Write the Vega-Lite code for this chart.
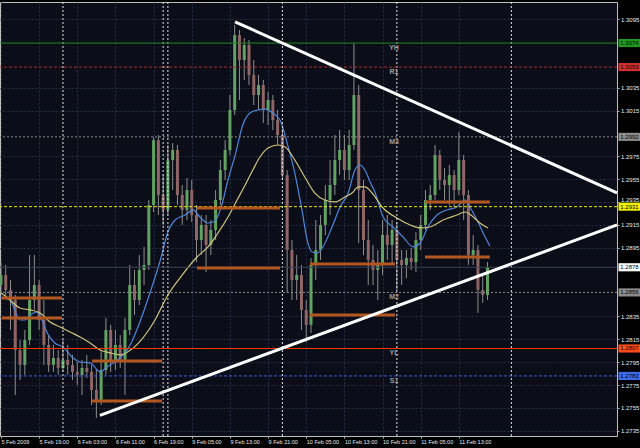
{
  "$schema": "https://vega.github.io/schema/vega-lite/v6.json",
  "width": 617,
  "height": 434,
  "autosize": {"type": "none"},
  "padding": {"left": 0, "top": 2, "right": 23, "bottom": 12},
  "background": "#000000",
  "resolve": {"axis": {"x": "independent", "y": "independent"}},
  "config": {
    "view": {"fill": "#0b0e18", "stroke": "#bdbdbd", "strokeWidth": 1},
    "axis": {
      "labelFont": "Liberation Sans",
      "labelColor": "#e8e8e8",
      "tickColor": "#bdbdbd",
      "tickSize": 2,
      "domain": false,
      "grid": true,
      "gridColor": "#283048",
      "gridDash": [2, 2],
      "gridWidth": 1,
      "labelOverlap": false,
      "labelBound": false,
      "labelFlush": false
    },
    "axisX": {"labelFontSize": 5.5},
    "axisY": {"labelFontSize": 6}
  },
  "datasets": {
    "candles": [
      {"i":0,"o":1.28625,"h":1.28826,"l":1.28564,"c":1.28713},
      {"i":1,"o":1.28713,"h":1.28800,"l":1.28511,"c":1.28581},
      {"i":2,"o":1.28581,"h":1.28669,"l":1.28232,"c":1.28494},
      {"i":3,"o":1.28494,"h":1.28538,"l":1.27663,"c":1.28057},
      {"i":4,"o":1.28057,"h":1.28144,"l":1.27795,"c":1.27926},
      {"i":5,"o":1.27926,"h":1.28232,"l":1.27839,"c":1.28144},
      {"i":6,"o":1.28144,"h":1.28887,"l":1.28101,"c":1.28494},
      {"i":7,"o":1.28494,"h":1.28887,"l":1.28407,"c":1.28625},
      {"i":8,"o":1.28625,"h":1.28669,"l":1.28232,"c":1.28319},
      {"i":9,"o":1.28319,"h":1.28494,"l":1.27926,"c":1.28101},
      {"i":10,"o":1.28101,"h":1.28187,"l":1.27865,"c":1.27926},
      {"i":11,"o":1.27926,"h":1.28101,"l":1.27865,"c":1.27987},
      {"i":12,"o":1.27987,"h":1.28057,"l":1.27839,"c":1.27900},
      {"i":13,"o":1.27900,"h":1.28144,"l":1.27865,"c":1.27970},
      {"i":14,"o":1.27970,"h":1.28101,"l":1.27839,"c":1.27926},
      {"i":15,"o":1.27926,"h":1.28014,"l":1.27795,"c":1.27865},
      {"i":16,"o":1.27865,"h":1.27952,"l":1.27751,"c":1.27839},
      {"i":17,"o":1.27839,"h":1.27970,"l":1.27663,"c":1.27900},
      {"i":18,"o":1.27900,"h":1.28014,"l":1.27812,"c":1.27865},
      {"i":19,"o":1.27865,"h":1.27926,"l":1.27576,"c":1.27707},
      {"i":20,"o":1.27707,"h":1.27882,"l":1.27463,"c":1.27620},
      {"i":21,"o":1.27620,"h":1.28057,"l":1.27576,"c":1.27882},
      {"i":22,"o":1.27882,"h":1.28337,"l":1.27839,"c":1.28232},
      {"i":23,"o":1.28232,"h":1.28276,"l":1.27865,"c":1.27970},
      {"i":24,"o":1.27970,"h":1.28232,"l":1.27882,"c":1.28101},
      {"i":25,"o":1.28101,"h":1.28187,"l":1.27900,"c":1.27970},
      {"i":26,"o":1.27970,"h":1.28337,"l":1.27663,"c":1.28232},
      {"i":27,"o":1.28232,"h":1.28800,"l":1.28187,"c":1.28625},
      {"i":28,"o":1.28625,"h":1.28756,"l":1.28363,"c":1.28494},
      {"i":29,"o":1.28494,"h":1.28887,"l":1.28450,"c":1.28756},
      {"i":30,"o":1.28756,"h":1.28958,"l":1.28625,"c":1.28800},
      {"i":31,"o":1.28800,"h":1.29368,"l":1.28756,"c":1.29324},
      {"i":32,"o":1.29324,"h":1.29919,"l":1.29263,"c":1.29892},
      {"i":33,"o":1.29892,"h":1.29936,"l":1.29237,"c":1.29412},
      {"i":34,"o":1.29412,"h":1.29586,"l":1.29150,"c":1.29281},
      {"i":35,"o":1.29281,"h":1.29849,"l":1.29237,"c":1.29718},
      {"i":36,"o":1.29718,"h":1.29866,"l":1.29455,"c":1.29805},
      {"i":37,"o":1.29805,"h":1.29849,"l":1.29324,"c":1.29412},
      {"i":38,"o":1.29412,"h":1.29499,"l":1.29150,"c":1.29281},
      {"i":39,"o":1.29281,"h":1.29560,"l":1.29193,"c":1.29455},
      {"i":40,"o":1.29455,"h":1.29543,"l":1.29176,"c":1.29237},
      {"i":41,"o":1.29237,"h":1.29324,"l":1.28826,"c":1.29018},
      {"i":42,"o":1.29018,"h":1.29237,"l":1.28887,"c":1.29150},
      {"i":43,"o":1.29150,"h":1.29237,"l":1.28739,"c":1.28975},
      {"i":44,"o":1.28975,"h":1.29193,"l":1.28887,"c":1.29106},
      {"i":45,"o":1.29106,"h":1.29455,"l":1.29018,"c":1.29368},
      {"i":46,"o":1.29368,"h":1.29718,"l":1.29324,"c":1.29630},
      {"i":47,"o":1.29630,"h":1.29892,"l":1.29543,"c":1.29805},
      {"i":48,"o":1.29805,"h":1.30286,"l":1.29761,"c":1.30155},
      {"i":49,"o":1.30155,"h":1.30898,"l":1.30111,"c":1.30810},
      {"i":50,"o":1.30810,"h":1.30854,"l":1.30242,"c":1.30592},
      {"i":51,"o":1.30592,"h":1.30784,"l":1.30417,"c":1.30723},
      {"i":52,"o":1.30723,"h":1.30766,"l":1.30373,"c":1.30461},
      {"i":53,"o":1.30461,"h":1.30592,"l":1.30198,"c":1.30286},
      {"i":54,"o":1.30286,"h":1.30461,"l":1.30155,"c":1.30373},
      {"i":55,"o":1.30373,"h":1.30417,"l":1.30041,"c":1.30155},
      {"i":56,"o":1.30155,"h":1.30312,"l":1.30024,"c":1.30242},
      {"i":57,"o":1.30242,"h":1.30286,"l":1.29980,"c":1.30067},
      {"i":58,"o":1.30067,"h":1.30155,"l":1.29849,"c":1.29936},
      {"i":59,"o":1.29936,"h":1.29997,"l":1.29543,"c":1.29586},
      {"i":60,"o":1.29586,"h":1.29630,"l":1.28555,"c":1.28931},
      {"i":61,"o":1.28931,"h":1.29018,"l":1.28494,"c":1.28669},
      {"i":62,"o":1.28669,"h":1.28887,"l":1.28494,"c":1.28713},
      {"i":63,"o":1.28713,"h":1.28800,"l":1.28232,"c":1.28407},
      {"i":64,"o":1.28407,"h":1.28494,"l":1.28127,"c":1.28276},
      {"i":65,"o":1.28276,"h":1.28861,"l":1.28206,"c":1.28800},
      {"i":66,"o":1.28800,"h":1.29193,"l":1.28669,"c":1.28931},
      {"i":67,"o":1.28931,"h":1.29237,"l":1.28844,"c":1.29150},
      {"i":68,"o":1.29150,"h":1.29499,"l":1.29062,"c":1.29368},
      {"i":69,"o":1.29368,"h":1.29718,"l":1.29237,"c":1.29499},
      {"i":70,"o":1.29499,"h":1.29936,"l":1.29412,"c":1.29718},
      {"i":71,"o":1.29718,"h":1.29980,"l":1.29586,"c":1.29805},
      {"i":72,"o":1.29805,"h":1.29936,"l":1.29543,"c":1.29630},
      {"i":73,"o":1.29630,"h":1.29980,"l":1.29543,"c":1.29849},
      {"i":74,"o":1.29849,"h":1.30740,"l":1.29805,"c":1.30286},
      {"i":75,"o":1.30286,"h":1.30373,"l":1.28992,"c":1.29455},
      {"i":76,"o":1.29455,"h":1.29543,"l":1.28887,"c":1.29018},
      {"i":77,"o":1.29018,"h":1.29193,"l":1.28625,"c":1.28844},
      {"i":78,"o":1.28844,"h":1.28975,"l":1.28625,"c":1.28756},
      {"i":79,"o":1.28756,"h":1.28931,"l":1.28494,"c":1.28800},
      {"i":80,"o":1.28800,"h":1.29193,"l":1.28713,"c":1.29062},
      {"i":81,"o":1.29062,"h":1.29237,"l":1.28844,"c":1.28975},
      {"i":82,"o":1.28975,"h":1.29193,"l":1.28800,"c":1.29106},
      {"i":83,"o":1.29106,"h":1.29176,"l":1.28581,"c":1.28844},
      {"i":84,"o":1.28844,"h":1.28931,"l":1.28625,"c":1.28800},
      {"i":85,"o":1.28800,"h":1.28931,"l":1.28686,"c":1.28861},
      {"i":86,"o":1.28861,"h":1.28949,"l":1.28756,"c":1.28826},
      {"i":87,"o":1.28826,"h":1.29088,"l":1.28739,"c":1.29018},
      {"i":88,"o":1.29018,"h":1.29237,"l":1.28931,"c":1.29150},
      {"i":89,"o":1.29150,"h":1.29455,"l":1.29106,"c":1.29368},
      {"i":90,"o":1.29368,"h":1.29499,"l":1.29281,"c":1.29412},
      {"i":91,"o":1.29412,"h":1.29849,"l":1.29368,"c":1.29761},
      {"i":92,"o":1.29761,"h":1.29805,"l":1.29455,"c":1.29543},
      {"i":93,"o":1.29543,"h":1.29648,"l":1.29368,"c":1.29499},
      {"i":94,"o":1.29499,"h":1.29674,"l":1.29324,"c":1.29586},
      {"i":95,"o":1.29586,"h":1.29630,"l":1.29307,"c":1.29455},
      {"i":96,"o":1.29455,"h":1.29962,"l":1.29412,"c":1.29718},
      {"i":97,"o":1.29718,"h":1.29761,"l":1.29193,"c":1.29412},
      {"i":98,"o":1.29412,"h":1.29455,"l":1.28800,"c":1.28887},
      {"i":99,"o":1.28887,"h":1.29062,"l":1.28800,"c":1.28931},
      {"i":100,"o":1.28931,"h":1.28975,"l":1.28380,"c":1.28581},
      {"i":101,"o":1.28581,"h":1.28713,"l":1.28468,"c":1.28538},
      {"i":102,"o":1.28538,"h":1.28826,"l":1.28494,"c":1.28782}
    ],
    "ma": [
      {"ma":"fast","i":-0.2,"p":1.28520},{"ma":"fast","i":1.9,"p":1.28494},{"ma":"fast","i":4.0,"p":1.28319},{"ma":"fast","i":5.0,"p":1.28319},
      {"ma":"fast","i":6.1,"p":1.28363},{"ma":"fast","i":7.6,"p":1.28389},{"ma":"fast","i":8.6,"p":1.28319},{"ma":"fast","i":9.7,"p":1.28206},
      {"ma":"fast","i":11.3,"p":1.28118},{"ma":"fast","i":13.0,"p":1.28083},{"ma":"fast","i":14.9,"p":1.27996},{"ma":"fast","i":16.6,"p":1.27952},
      {"ma":"fast","i":18.7,"p":1.27944},{"ma":"fast","i":20.8,"p":1.27865},{"ma":"fast","i":22.2,"p":1.27909},{"ma":"fast","i":23.9,"p":1.27952},
      {"ma":"fast","i":27.1,"p":1.28101},{"ma":"fast","i":29.2,"p":1.28310},{"ma":"fast","i":31.3,"p":1.28564},{"ma":"fast","i":33.3,"p":1.28826},
      {"ma":"fast","i":35.0,"p":1.29088},{"ma":"fast","i":36.5,"p":1.29193},{"ma":"fast","i":38.6,"p":1.29237},{"ma":"fast","i":40.3,"p":1.29281},
      {"ma":"fast","i":41.7,"p":1.29220},{"ma":"fast","i":43.4,"p":1.29167},{"ma":"fast","i":44.9,"p":1.29184},{"ma":"fast","i":46.3,"p":1.29324},
      {"ma":"fast","i":47.6,"p":1.29543},{"ma":"fast","i":49.1,"p":1.29761},{"ma":"fast","i":50.7,"p":1.30024},{"ma":"fast","i":52.2,"p":1.30128},
      {"ma":"fast","i":53.9,"p":1.30155},{"ma":"fast","i":55.4,"p":1.30163},{"ma":"fast","i":57.0,"p":1.30128},{"ma":"fast","i":58.5,"p":1.30067},
      {"ma":"fast","i":60.0,"p":1.29866},{"ma":"fast","i":61.6,"p":1.29604},{"ma":"fast","i":63.1,"p":1.29281},{"ma":"fast","i":64.2,"p":1.29018},
      {"ma":"fast","i":65.2,"p":1.28914},{"ma":"fast","i":66.3,"p":1.28905},{"ma":"fast","i":67.5,"p":1.28958},{"ma":"fast","i":69.4,"p":1.29132},
      {"ma":"fast","i":71.1,"p":1.29307},{"ma":"fast","i":72.8,"p":1.29429},{"ma":"fast","i":74.2,"p":1.29630},{"ma":"fast","i":75.3,"p":1.29674},
      {"ma":"fast","i":76.3,"p":1.29630},{"ma":"fast","i":77.4,"p":1.29525},{"ma":"fast","i":78.4,"p":1.29438},{"ma":"fast","i":80.1,"p":1.29220},
      {"ma":"fast","i":82.2,"p":1.29132},{"ma":"fast","i":84.3,"p":1.29045},{"ma":"fast","i":86.4,"p":1.28958},{"ma":"fast","i":87.9,"p":1.28992},
      {"ma":"fast","i":89.5,"p":1.29132},{"ma":"fast","i":91.4,"p":1.29237},{"ma":"fast","i":93.5,"p":1.29281},{"ma":"fast","i":95.6,"p":1.29307},
      {"ma":"fast","i":97.3,"p":1.29368},{"ma":"fast","i":98.3,"p":1.29307},{"ma":"fast","i":99.8,"p":1.29193},{"ma":"fast","i":101.5,"p":1.29045},
      {"ma":"fast","i":102.5,"p":1.28966},
      {"ma":"slow","i":-0.2,"p":1.28564},{"ma":"slow","i":1.9,"p":1.28494},{"ma":"slow","i":4.0,"p":1.28424},{"ma":"slow","i":6.1,"p":1.28407},
      {"ma":"slow","i":8.2,"p":1.28380},{"ma":"slow","i":10.3,"p":1.28302},{"ma":"slow","i":12.4,"p":1.28258},{"ma":"slow","i":14.5,"p":1.28214},
      {"ma":"slow","i":16.6,"p":1.28170},{"ma":"slow","i":18.7,"p":1.28118},{"ma":"slow","i":20.8,"p":1.28057},{"ma":"slow","i":22.9,"p":1.28031},
      {"ma":"slow","i":25.0,"p":1.28014},{"ma":"slow","i":26.6,"p":1.28041},{"ma":"slow","i":29.2,"p":1.28135},{"ma":"slow","i":32.3,"p":1.28319},
      {"ma":"slow","i":35.0,"p":1.28538},{"ma":"slow","i":38.0,"p":1.28713},{"ma":"slow","i":41.1,"p":1.28870},{"ma":"slow","i":43.4,"p":1.28958},
      {"ma":"slow","i":45.5,"p":1.29080},{"ma":"slow","i":47.6,"p":1.29220},{"ma":"slow","i":49.5,"p":1.29368},{"ma":"slow","i":51.2,"p":1.29499},
      {"ma":"slow","i":52.8,"p":1.29630},{"ma":"slow","i":54.3,"p":1.29744},{"ma":"slow","i":56.0,"p":1.29822},{"ma":"slow","i":58.1,"p":1.29849},
      {"ma":"slow","i":59.6,"p":1.29831},{"ma":"slow","i":61.6,"p":1.29718},{"ma":"slow","i":63.7,"p":1.29569},{"ma":"slow","i":65.8,"p":1.29429},
      {"ma":"slow","i":67.9,"p":1.29368},{"ma":"slow","i":70.0,"p":1.29351},{"ma":"slow","i":72.1,"p":1.29394},{"ma":"slow","i":73.6,"p":1.29429},
      {"ma":"slow","i":74.9,"p":1.29482},{"ma":"slow","i":76.3,"p":1.29482},{"ma":"slow","i":77.8,"p":1.29429},{"ma":"slow","i":80.1,"p":1.29298},
      {"ma":"slow","i":83.0,"p":1.29211},{"ma":"slow","i":85.8,"p":1.29150},{"ma":"slow","i":87.9,"p":1.29124},{"ma":"slow","i":89.9,"p":1.29132},
      {"ma":"slow","i":92.7,"p":1.29193},{"ma":"slow","i":95.6,"p":1.29237},{"ma":"slow","i":97.3,"p":1.29263},{"ma":"slow","i":99.0,"p":1.29220},
      {"ma":"slow","i":100.4,"p":1.29167},{"ma":"slow","i":102.1,"p":1.29124}
    ],
    "levels": [
      {"name":"YH","p":1.3074},
      {"name":"R1","p":1.3053},
      {"name":"M3","p":1.2992},
      {"name":"PP","p":1.2931},
      {"name":"BID","p":1.2878},
      {"name":"M2","p":1.2856},
      {"name":"YL","p":1.2807},
      {"name":"S1","p":1.2783}
    ],
    "segs": [
      {"i":0.2,"i2":12.8,"p":1.28511},
      {"i":0.2,"i2":12.8,"p":1.28337},
      {"i":19.1,"i2":33.8,"p":1.27961},
      {"i":19.1,"i2":33.8,"p":1.27611},
      {"i":41.1,"i2":58.5,"p":1.28774},
      {"i":41.1,"i2":58.5,"p":1.29298},
      {"i":64.8,"i2":82.6,"p":1.28809},
      {"i":64.8,"i2":82.6,"p":1.28363},
      {"i":88.9,"i2":102.5,"p":1.29351},
      {"i":88.9,"i2":102.5,"p":1.28870}
    ],
    "trend": [
      {"t":"upper","i":49.07,"p":1.30926},
      {"t":"upper","i":129.15,"p":1.29431},
      {"t":"lower","i":20.76,"p":1.27485},
      {"t":"lower","i":129.15,"p":1.29150}
    ],
    "seps": [
      {"i":13},{"i":34},{"i":35},{"i":59},{"i":83},{"i":107}
    ]
  },
  "layer": [
    {
      "data": {"name": "candles"},
      "mark": {"type": "rule", "color": "#8e8e8e", "strokeWidth": 1},
      "encoding": {
        "x": {
          "field": "i", "type": "quantitative",
          "scale": {"domain": [-0.2, 129.15], "nice": false, "zero": false},
          "axis": {
            "title": null,
            "orient": "bottom",
            "values": [0, 8, 16, 24, 32, 40, 48, 56, 64, 72, 80, 88, 96],
            "labelExpr": "['5 Feb 2009','5 Feb 19:00','6 Feb 03:00','6 Feb 11:00','6 Feb 19:00','9 Feb 05:00','9 Feb 13:00','9 Feb 21:00','10 Feb 05:00','10 Feb 13:00','10 Feb 21:00','11 Feb 05:00','11 Feb 13:00'][round(datum.value / 8)]",
            "labelAlign": "left",
            "labelBaseline": "top",
            "labelPadding": 1.5,
            "labelOverlap": false,
            "labelFlush": false,
            "labelBound": false
          }
        },
        "y": {
          "field": "l", "type": "quantitative",
          "scale": {"domain": [1.27305, 1.31099], "nice": false, "zero": false},
          "axis": {
            "title": null,
            "orient": "right",
            "values": [1.2735, 1.2755, 1.2775, 1.2795, 1.2815, 1.2835, 1.2895, 1.2915, 1.2935, 1.2955, 1.2975, 1.3015, 1.3035, 1.3095],
            "format": ".4f",
            "labelAlign": "left",
            "labelBaseline": {"condition": {"test": "abs(datum.value - 1.2935) < 0.00001", "value": "bottom"}, "value": "middle"},
            "labelPadding": 1.5,
            "labelOverlap": false,
            "labelFlush": false,
            "labelBound": false
          }
        },
        "y2": {"field": "h"}
      }
    },
    {
      "data": {"name": "candles"},
      "mark": {"type": "rule", "strokeWidth": 3},
      "encoding": {
        "x": {"field": "i", "type": "quantitative", "scale": {"domain": [-0.2, 129.15], "nice": false, "zero": false}, "axis": null},
        "y": {"field": "o", "type": "quantitative", "scale": {"domain": [1.27305, 1.31099], "nice": false, "zero": false}, "axis": null},
        "y2": {"field": "c"},
        "color": {"condition": {"test": "datum.c >= datum.o", "value": "#62a262"}, "value": "#8f6666"}
      }
    },
    {
      "data": {"name": "ma"},
      "mark": {"type": "line", "strokeWidth": 1.2, "interpolate": "monotone"},
      "encoding": {
        "x": {"field": "i", "type": "quantitative", "scale": {"domain": [-0.2, 129.15], "nice": false, "zero": false}, "axis": null},
        "y": {"field": "p", "type": "quantitative", "scale": {"domain": [1.27305, 1.31099], "nice": false, "zero": false}, "axis": null},
        "color": {"field": "ma", "type": "nominal", "scale": {"domain": ["fast", "slow"], "range": ["#4f86da", "#cfc47a"]}, "legend": null}
      }
    },
    {
      "data": {"name": "seps"},
      "mark": {"type": "rule", "color": "#e6e6e6", "strokeWidth": 1, "strokeDash": [2, 2]},
      "encoding": {
        "x": {"field": "i", "type": "quantitative", "scale": {"domain": [-0.2, 129.15], "nice": false, "zero": false}, "axis": null}
      }
    },
    {
      "data": {"name": "levels"},
      "mark": {"type": "rule", "strokeWidth": 1},
      "encoding": {
        "y": {"field": "p", "type": "quantitative", "scale": {"domain": [1.27305, 1.31099], "nice": false, "zero": false}, "axis": null},
        "stroke": {"field": "name", "type": "nominal", "scale": {"domain": ["YH","R1","M3","PP","BID","M2","YL","S1"], "range": ["#1f8a1f","#b02a2a","#8a8a8a","#e8e800","#3b4158","#8a8a8a","#ff3a00","#3d5fe0"]}, "legend": null},
        "strokeDash": {"field": "name", "type": "nominal", "scale": {"domain": ["YH","R1","M3","PP","BID","M2","YL","S1"], "range": [[1,0],[3,2],[2,2],[3,2],[1,0],[2,2],[1,0],[3,2]]}, "legend": null}
      }
    },
    {
      "data": {"name": "segs"},
      "mark": {"type": "rule", "color": "#b3561f", "strokeWidth": 3},
      "encoding": {
        "x": {"field": "i", "type": "quantitative", "scale": {"domain": [-0.2, 129.15], "nice": false, "zero": false}, "axis": null},
        "x2": {"field": "i2"},
        "y": {"field": "p", "type": "quantitative", "scale": {"domain": [1.27305, 1.31099], "nice": false, "zero": false}, "axis": null}
      }
    },
    {
      "data": {"name": "trend"},
      "mark": {"type": "line", "color": "#ffffff", "strokeWidth": 3},
      "encoding": {
        "x": {"field": "i", "type": "quantitative", "scale": {"domain": [-0.2, 129.15], "nice": false, "zero": false}, "axis": null},
        "y": {"field": "p", "type": "quantitative", "scale": {"domain": [1.27305, 1.31099], "nice": false, "zero": false}, "axis": null},
        "detail": {"field": "t", "type": "nominal"}
      }
    },
    {
      "data": {"name": "levels"},
      "transform": [{"filter": "indexof(['YH','R1','M3','M2','YL','S1'], datum.name) >= 0"}],
      "mark": {"type": "text", "color": "#9c9c9c", "fontSize": 7, "fontWeight": "bold", "font": "Liberation Sans", "align": "center", "baseline": "middle", "dy": 5},
      "encoding": {
        "x": {"datum": 82.4, "type": "quantitative", "scale": {"domain": [-0.2, 129.15], "nice": false, "zero": false}, "axis": null},
        "y": {"field": "p", "type": "quantitative", "scale": {"domain": [1.27305, 1.31099], "nice": false, "zero": false}, "axis": null},
        "text": {"field": "name"}
      }
    },
    {
      "data": {"name": "levels"},
      "mark": {"type": "point", "filled": true, "opacity": 1, "strokeWidth": 0, "size": 484, "shape": "M-1,-0.37H1V0.37H-1Z"},
      "encoding": {
        "x": {"datum": 131.77, "type": "quantitative", "scale": {"domain": [-0.2, 129.15], "nice": false, "zero": false}, "axis": null},
        "y": {"field": "p", "type": "quantitative", "scale": {"domain": [1.27305, 1.31099], "nice": false, "zero": false}, "axis": null},
        "fill": {"field": "name", "type": "nominal", "scale": {"domain": ["YH","R1","M3","PP","BID","M2","YL","S1"], "range": ["#1f9a1f","#d03030","#8c8c8c","#f0f000","#ffffff","#8c8c8c","#ff4a1a","#3d6ae8"]}, "legend": null}
      }
    },
    {
      "data": {"name": "levels"},
      "mark": {"type": "text", "color": "#000000", "fontSize": 6, "font": "Liberation Sans", "align": "center", "baseline": "middle"},
      "encoding": {
        "x": {"datum": 131.77, "type": "quantitative", "scale": {"domain": [-0.2, 129.15], "nice": false, "zero": false}, "axis": null},
        "y": {"field": "p", "type": "quantitative", "scale": {"domain": [1.27305, 1.31099], "nice": false, "zero": false}, "axis": null},
        "text": {"field": "p", "type": "quantitative", "format": ".4f"}
      }
    }
  ]
}
